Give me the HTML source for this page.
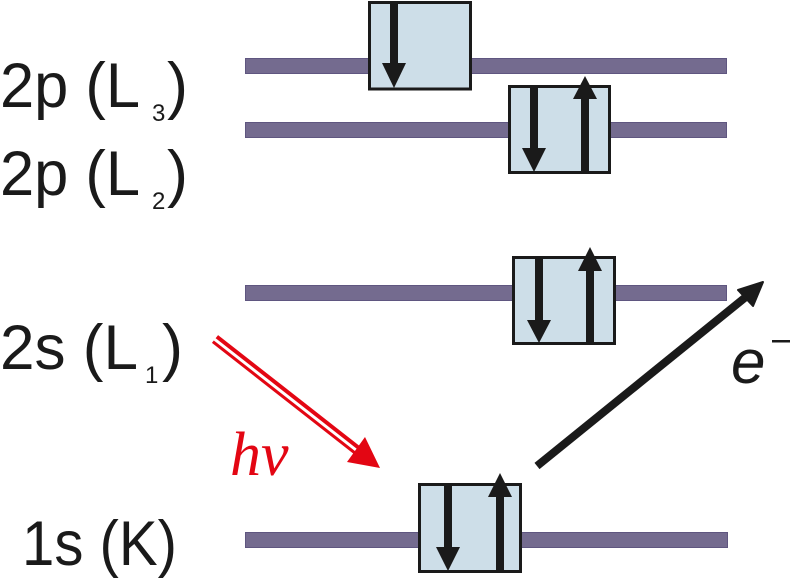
<!DOCTYPE html>
<html><head><meta charset="utf-8"><style>
html,body{margin:0;padding:0;background:#fff;}
svg{display:block;}
</style></head><body>
<svg width="790" height="580" viewBox="0 0 790 580" xmlns="http://www.w3.org/2000/svg">
<!-- energy levels -->
<g fill="#746b8f" stroke="#5f5680" stroke-width="1">
<rect x="245.5" y="58.5" width="481" height="15"/>
<rect x="245.5" y="122.5" width="481" height="15"/>
<rect x="245.5" y="285.5" width="481" height="15"/>
<rect x="245.5" y="532.5" width="482" height="15"/>
</g>
<!-- boxes -->
<g fill="#cddee8" stroke="#1a1a1a" stroke-width="3">
<rect x="369.5" y="2.5" width="101" height="86.5"/>
<rect x="509.5" y="86.5" width="100" height="86"/>
<rect x="513.5" y="257.5" width="101" height="86"/>
<rect x="419.5" y="484.5" width="101" height="87"/>
</g>
<!-- spin arrows -->
<g fill="#1a1a1a">
<!-- box1 down -->
<rect x="390" y="2" width="8" height="62"/>
<polygon points="382,63 406,63 394,88"/>
<!-- box2 down, up -->
<rect x="530" y="87" width="8" height="62"/>
<polygon points="522,148 546,148 534,172"/>
<rect x="581" y="98" width="8" height="75"/>
<polygon points="573,99 597,99 585,76"/>
<!-- box3 down, up -->
<rect x="535" y="258" width="8" height="63"/>
<polygon points="527,320 551,320 539,343"/>
<rect x="586" y="270" width="8" height="73"/>
<polygon points="578,271 602,271 590,247"/>
<!-- box4 down, up -->
<rect x="444" y="485" width="8" height="63"/>
<polygon points="436,547 460,547 448,571"/>
<rect x="496" y="496" width="8" height="75"/>
<polygon points="488,497 512,497 500,473"/>
</g>
<!-- photon double arrow -->
<line x1="215" y1="339" x2="358" y2="451" stroke="#e30613" stroke-width="10"/>
<line x1="213" y1="338" x2="356" y2="450" stroke="#ffffff" stroke-width="3"/>
<polygon points="380,468 347,462 365,437" fill="#e30613"/>
<!-- electron arrow -->
<line x1="537" y1="466" x2="747" y2="296" stroke="#1a1a1a" stroke-width="8"/>
<polygon points="763,282 738,290 753,306" fill="#1a1a1a" stroke="#1a1a1a" stroke-width="2" stroke-linejoin="round"/>
<!-- labels -->
<g font-family="Liberation Sans, sans-serif" fill="#1a1a1a">
<text x="0" y="107" font-size="63" textLength="140" lengthAdjust="spacingAndGlyphs">2p (L</text>
<text x="152" y="121" font-size="24">3</text>
<text x="167" y="107" font-size="63">)</text>

<text x="0" y="195" font-size="63" textLength="140" lengthAdjust="spacingAndGlyphs">2p (L</text>
<text x="152" y="209" font-size="24">2</text>
<text x="167" y="195" font-size="63">)</text>

<text x="0" y="369" font-size="63" textLength="138" lengthAdjust="spacingAndGlyphs">2s (L</text>
<text x="145" y="383" font-size="24">1</text>
<text x="162" y="369" font-size="63">)</text>

<text x="22" y="565" font-size="63" textLength="155" lengthAdjust="spacingAndGlyphs">1s (K)</text>

<text x="731" y="383" font-size="62" font-style="italic">e</text>
<rect x="772" y="340" width="18" height="2.5"/>
</g>
<text x="230" y="475" font-family="Liberation Serif, serif" font-style="italic" font-size="62" fill="#e30613">hν</text>
</svg>
</body></html>
